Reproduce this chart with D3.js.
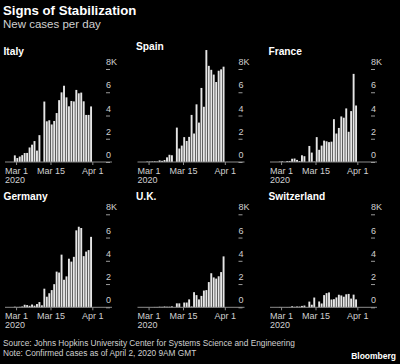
<!DOCTYPE html>
<html>
<head>
<meta charset="utf-8">
<script src="https://cdn.jsdelivr.net/npm/d3@7"></script>
<style>
  body { margin: 0; background: #000; }
  text { font-family: "Liberation Sans", Arial, sans-serif; }
</style>
</head>
<body>
<div id="chart"></div>
<script>
// countries, one small multiple each
var countries = ["Italy", "Spain", "France", "Germany", "U.K.", "Switzerland"];

// new cases per day, thousands, Mar 1 .. Apr 1 2020
var italy = [0.57, 0.34, 0.47, 0.59, 0.77, 0.78, 1.25, 1.49, 1.8, 0.98, 2.31, 0, 5.2, 3.5, 3.59, 3.23,
             3.53, 4.21, 5.32, 5.99, 6.56, 5.56, 4.79, 5.25, 5.21, 6.2, 5.91, 5.97, 5.22, 4.05, 4.05, 4.78];
var spain = [0.04, 0.04, 0.05, 0.06, 0.04, 0.14, 0.1, 0.17, 0.4, 0.62, 0.58, 0, 2.96, 1.16, 1.41, 2.14,
             1.81, 2.16, 4.05, 2.45, 4.96, 3.39, 6.37, 4.75, 9.63, 8.27, 7.93, 7.52, 6.88, 7.85, 7.97, 8.2];
var france = [0.03, 0.06, 0.01, 0.08, 0.09, 0.28, 0.3, 0.18, 0.08, 0.58, 0.5, 0, 1.38, 0.81, 0.03, 2.14,
              1.05, 1.41, 1.84, 1.78, 1.71, 1.75, 3.68, 2.45, 2.93, 3.92, 3.81, 4.61, 2.6, 4.38, 7.58, 4.86];
var germany = [0.05, 0.03, 0.04, 0.07, 0.22, 0.19, 0.13, 0.24, 0.14, 0.28, 0.45, 0.17, 1.6, 0.91, 1.21, 1.48,
               1.99, 3.07, 2.99, 4.53, 2.37, 2.66, 4.18, 3.93, 4.34, 6.62, 6.93, 6.82, 4.4, 4.79, 4.92, 6.06];
var uk = [0.01, 0, 0.01, 0.03, 0.03, 0.05, 0.04, 0.07, 0.05, 0.05, 0.08, 0, 0.34, 0.34, 0, 0.41,
          0.41, 0.68, 0.07, 1.3, 1.05, 0.68, 0.98, 1.44, 1.48, 2.17, 2.93, 2.57, 2.47, 2.67, 3.03, 4.38];
var switzerland = [0.03, 0.01, 0.01, 0.02, 0.03, 0.09, 0.04, 0.07, 0.06, 0.12, 0.15, 0, 0.49, 0.22, 0.84, 0,
                   0.5, 0.33, 1.05, 1.22, 1.28, 0.67, 0.7, 0.85, 1.08, 1.02, 0.91, 1.12, 1.15, 0.75, 1.09, 0.68];
var series = [italy, spain, france, germany, uk, switzerland];

// axis ticks
var yTicks = [0, 2, 4, 6, 8];
var yTickLabels = ["0", "2", "4", "6", "8K"];
var xTicks = [new Date(2020, 2, 1), new Date(2020, 2, 15), new Date(2020, 3, 1)];
var xTickLabels = ["Mar 1", "Mar 15", "Apr 1"];

// days the values belong to
var days = d3.timeDay.range(new Date(2020, 2, 1), new Date(2020, 3, 2));

var width = 400,
    height = 364;

var svg = d3.select("#chart")
    .append("svg")
    .attr("width", width)
    .attr("height", height);

svg.append("rect")
    .attr("width", width)
    .attr("height", height)
    .attr("fill", "#000");

//headline and subtitle
svg.append("text")
    .attr("x", 3).attr("y", 14.7)
    .attr("fill", "#fff")
    .attr("font-size", 13.2)
    .attr("font-weight", "bold")
    .text("Signs of Stabilization");

svg.append("text")
    .attr("x", 3).attr("y", 28)
    .attr("fill", "#d0d0d0")
    .attr("font-size", 11.5)
    .text("New cases per day");

//panel grid
var colX = [0, 132.5, 265],
    rowBase = [162, 307.3];

var x = d3.scaleTime()
    .domain([new Date(2020, 1, 25, 12), new Date(2020, 3, 9)])
    .range([5, 112]);

var y = d3.scaleLinear()
    .domain([0, 8])
    .range([0, -93]);

countries.forEach(function(name, i){
    var values = series[i];
    var g = svg.append("g")
        .attr("transform", "translate(" + colX[i % 3] + "," + rowBase[Math.floor(i / 3)] + ")");

    // title sits above the 8K label, or above the tallest bar if that is higher
    var titleY = Math.min(y(d3.max(values)), y(8) - 14.4);
    g.append("text")
        .attr("x", 3.5).attr("y", titleY)
        .attr("fill", "#fff")
        .attr("font-size", 10.2)
        .attr("font-weight", "bold")
        .text(name);

    //bars
    g.selectAll(".bar")
        .data(values)
        .enter()
        .append("rect")
        .attr("class", "bar")
        .attr("x", function(d, j){ return x(days[j]) - 2.2; })
        .attr("width", 1.9)
        .attr("y", function(d){ return y(d); })
        .attr("height", function(d){ return -y(d); })
        .attr("fill", "#e6e6e6");

    //baseline
    g.append("line")
        .attr("x1", x.range()[0]).attr("x2", x.range()[1])
        .attr("y1", 0).attr("y2", 0)
        .attr("stroke", "#8c8c8c")
        .attr("stroke-width", 1);

    //x axis ticks and labels
    var xAxis = d3.axisBottom(x)
        .tickValues(xTicks)
        .tickSize(3)
        .tickFormat(function(d, k){ return xTickLabels[k]; });

    var xg = g.append("g").call(xAxis);
    xg.select(".domain").remove();
    xg.selectAll(".tick line").attr("stroke", "#8c8c8c");
    xg.selectAll(".tick text")
        .attr("y", 11.9)
        .attr("dy", 0)
        .attr("fill", "#d0d0d0")
        .attr("font-size", 9)
        .attr("font-family", "Liberation Sans, Arial, sans-serif");

    g.append("text")
        .attr("x", x(xTicks[0]) - 1)
        .attr("y", 20.5)
        .attr("text-anchor", "middle")
        .attr("fill", "#d0d0d0")
        .attr("font-size", 9)
        .text("2020");

    //y axis: short dashes with labels sitting above them
    var yAxis = d3.axisRight(y)
        .tickValues(yTicks)
        .tickSize(4)
        .tickFormat(function(d, k){ return yTickLabels[k]; });

    var yg = g.append("g")
        .attr("transform", "translate(106,0)")
        .call(yAxis);
    yg.select(".domain").remove();
    yg.selectAll(".tick line").attr("stroke", "#9a9a9a");
    yg.selectAll(".tick text")
        .attr("x", 0)
        .attr("y", -4.5)
        .attr("dy", 0)
        .attr("text-anchor", "start")
        .attr("fill", "#d0d0d0")
        .attr("font-size", 9)
        .attr("font-family", "Liberation Sans, Arial, sans-serif");
});

//footer
svg.append("text")
    .attr("x", 3).attr("y", 346.4)
    .attr("fill", "#d0d0d0")
    .attr("font-size", 8.3)
    .text("Source: Johns Hopkins University Center for Systems Science and Engineering");

svg.append("text")
    .attr("x", 3).attr("y", 356.4)
    .attr("fill", "#d0d0d0")
    .attr("font-size", 8.3)
    .text("Note: Confirmed cases as of April 2, 2020 9AM GMT");

svg.append("text")
    .attr("x", 396).attr("y", 359)
    .attr("text-anchor", "end")
    .attr("fill", "#fff")
    .attr("font-size", 8.5)
    .attr("font-weight", "bold")
    .text("Bloomberg");
</script>
</body>
</html>
